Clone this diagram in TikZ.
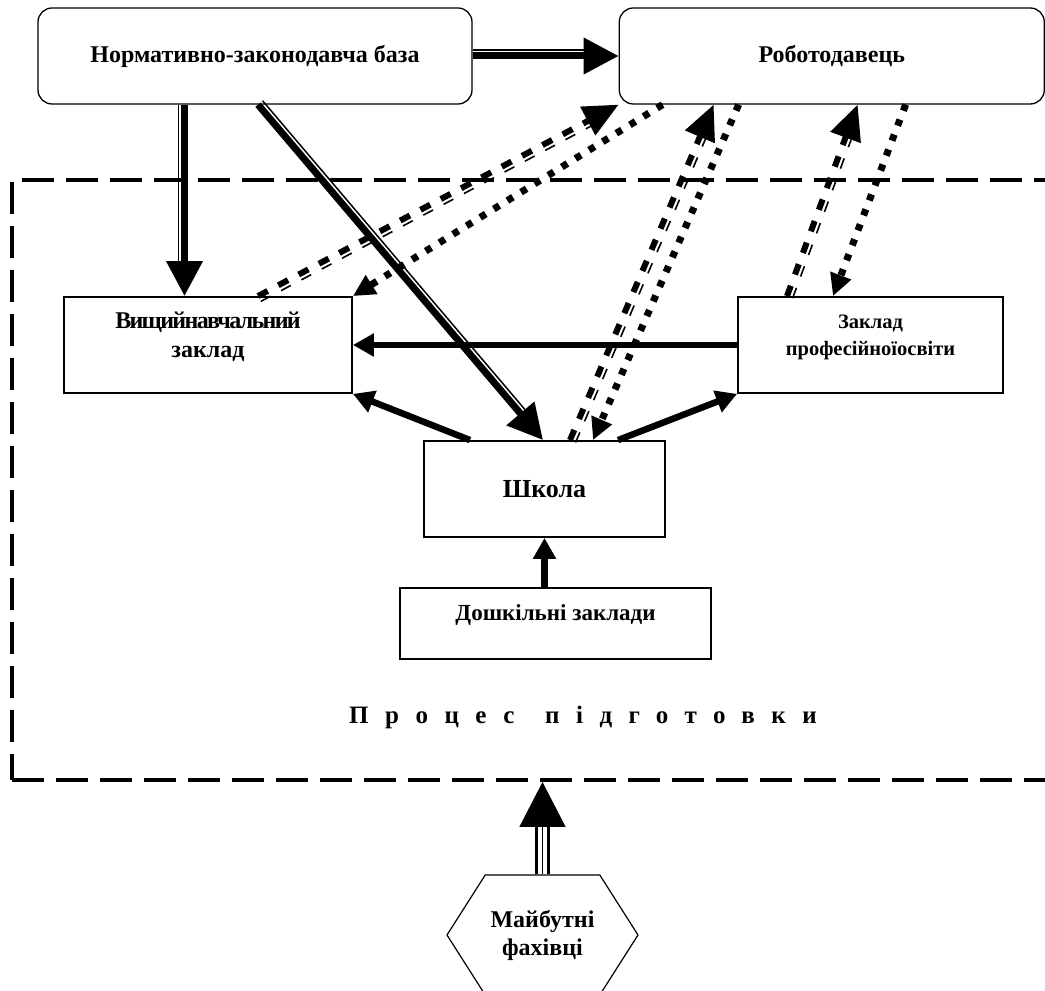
\documentclass[tikz,border=0pt]{standalone}
\usepackage{fontspec}
\setmainfont{Liberation Serif}
\usetikzlibrary{positioning}
\usetikzlibrary{arrows.meta}
\usetikzlibrary{calc}
\usetikzlibrary{shapes.symbols}

\begin{document}
\begin{tikzpicture}
	[	x=1pt, y=1pt,
		rblock/.style={rectangle,rounded corners=14pt,draw=black,line width=1.3pt,minimum height=96pt,font=\bfseries\fontsize{24}{29}\selectfont},
		block/.style={rectangle,draw=black,line width=1.8pt,minimum height=96pt,align=center,font=\bfseries\fontsize{24}{29}\selectfont},
		area/.style={rectangle,draw=black,line width=4pt,dash pattern=on 32pt off 12pt,minimum width=1063pt,minimum height=600pt},
		hexblock/.style={signal,signal to=east and west,signal pointer angle=115,draw=black,line width=1.2pt,minimum width=191pt,minimum height=120pt,align=center,font=\bfseries\fontsize{24}{28}\selectfont},
		vec/.style={-{Triangle[length=21pt,width=22pt]},line width=6.5pt},
		bigvec/.style={-{Triangle[length=35pt,width=35pt]},line width=7pt},
		thinline/.style={line width=1.5pt,shorten >=35pt},
		dotvec/.style={-{Triangle[length=22pt,width=21pt]},line width=7pt,dash pattern=on 6.5pt off 9.5pt},
		dashvec/.style={-{Triangle[length=35pt,width=31pt]},line width=6pt,dash pattern=on 11pt off 12pt},
		dashthin/.style={line width=1.6pt,dash pattern=on 11pt off 12pt,shorten >=35pt},
		triple/.style={double=white,line width=3pt,double distance=9pt,shorten >=45pt},
		triplevec/.style={-{Triangle[length=45pt,width=46pt]},line width=1.5pt}	]
	\useasboundingbox (0,0) rectangle (1045,991);
	\node[area] (proc) at (543.5,511) {};
	\node[rblock,minimum width=434pt] (norm) at (255,935) {Нормативно-законодавча база};
	\node[rblock,minimum width=425pt] (emp) [right = 146pt of norm] {Роботодавець};
	\node[block,minimum width=288pt] (vnz) at (208,646) {{\addfontfeature{LetterSpace=-7}Вищийнавчальний}\\заклад\\[-8pt]~};
	\node[block,minimum width=265pt,font=\bfseries\fontsize{20.5}{27}\selectfont] (zpo) at (870.5,646) {Заклад\\професійноїосвіти\\[-8pt]~};
	\node[block,minimum width=241pt,font=\bfseries\fontsize{26}{30}\selectfont] (school) at (544.5,502) {Школа};
	\node[block,minimum width=311pt,minimum height=71pt,font=\bfseries\fontsize{23}{22}\selectfont] (dosh) at (555.5,367.5) {Дошкільні заклади\\~};
	\node[font=\bfseries\fontsize{25}{30}\selectfont\addfontfeature{LetterSpace=66}] (plabel) at (583,274) {Процес\hspace{8pt} підготовки};
	\node[hexblock] (fach) at (542.5,56) {Майбутні\\фахівці};
	% normative base
	\coordinate (vnzin) at ([xshift=-23.5pt]vnz.north);
	\coordinate (normout) at (norm.south -| vnzin);
	\draw[bigvec] (normout) -- (vnzin);
	\draw[thinline] ([xshift=-6pt]normout) -- ([xshift=-6pt]vnzin);
	\draw[bigvec] (norm) -- (emp);
	\draw[thinline] ([yshift=6pt]norm.east) -- ([yshift=6pt]emp.west);
	\coordinate (normdiag) at ([xshift=3pt]norm.south);
	\coordinate (schoolin) at ([xshift=-1.5pt]school.north);
	\draw[bigvec] (normdiag) -- (schoolin);
	\draw[thinline] ($(normdiag)!6pt!90:(schoolin)$) -- ($(schoolin)!6pt!-90:(normdiag)$);
	% employer
	\draw[dotvec] ([xshift=44pt]emp.south west) -- (vnz.north east);
	\draw[dotvec] ([xshift=120pt]emp.south west) -- ([xshift=48.5pt]school.north);
	\draw[dotvec] ([xshift=287pt]emp.south west) -- ([xshift=-37.5pt]zpo.north);
	\coordinate (vnzout) at ([xshift=50pt]vnz.north);
	\draw[dashvec] (vnzout) -- (emp.south west);
	\draw[dashthin] ($(vnzout)!6pt!-90:(emp.south west)$) -- ($(emp.south west)!6pt!90:(vnzout)$);
	\coordinate (schoolout) at ([xshift=25.5pt]school.north);
	\coordinate (empin) at ([xshift=95pt]emp.south west);
	\draw[dashvec] (schoolout) -- (empin);
	\draw[dashthin] ($(schoolout)!6pt!-90:(empin)$) -- ($(empin)!6pt!90:(schoolout)$);
	\coordinate (zpoout) at ([xshift=-83.5pt]zpo.north);
	\coordinate (empinr) at ([xshift=239pt]emp.south west);
	\draw[dashvec] (zpoout) -- (empinr);
	\draw[dashthin] ($(zpoout)!6pt!-90:(empinr)$) -- ($(empinr)!6pt!90:(zpoout)$);
	% schools
	\draw[vec] (zpo) -- (vnz);
	\draw[vec] ([xshift=-74.5pt]school.north) -- (vnz.south east);
	\draw[vec] ([xshift=73.5pt]school.north) -- (zpo.south west);
	\draw[vec] (school.south |- dosh.north) -- (school.south);
	% future specialists
	\draw[triple] (fach.north) -- (fach.north |- proc.south);
	\draw[triplevec] (fach.north) -- (fach.north |- proc.south);
\end{tikzpicture}
\end{document}
